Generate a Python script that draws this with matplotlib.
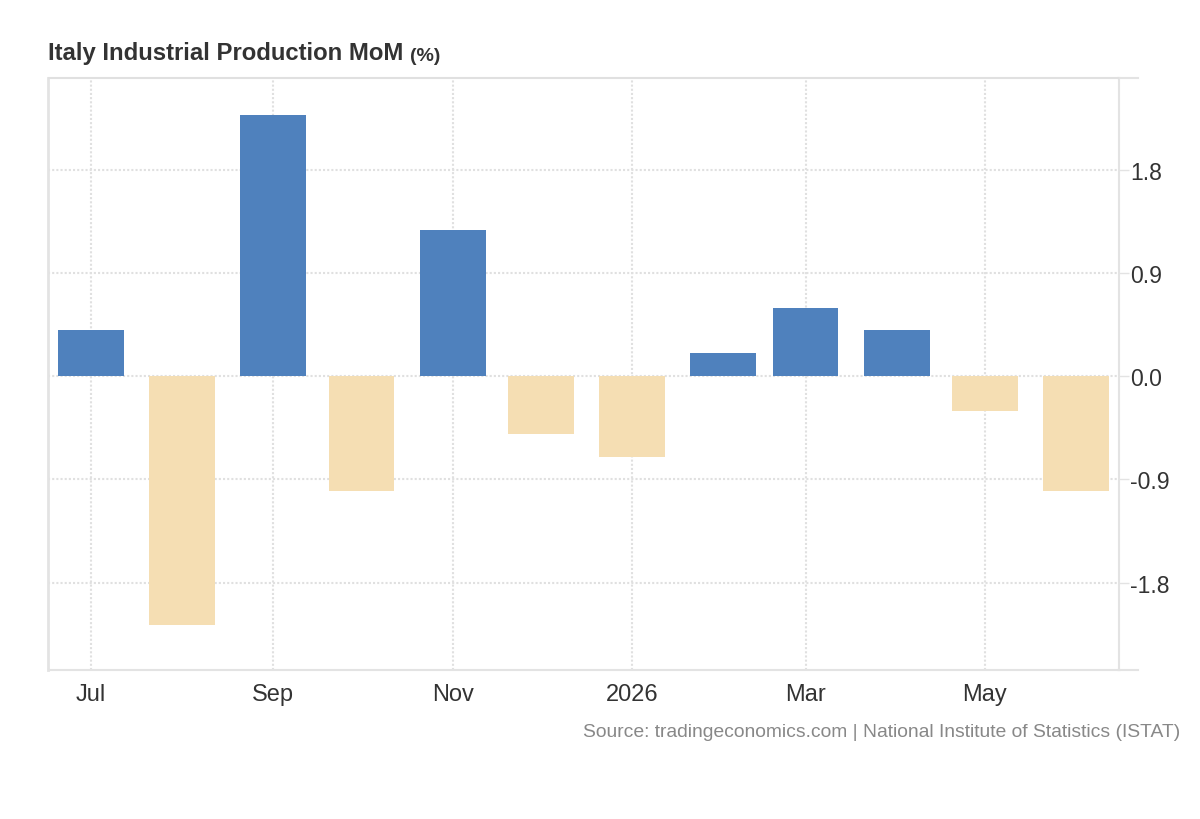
import matplotlib
matplotlib.use("Agg")
import matplotlib.pyplot as plt
import matplotlib.dates as mdates
from matplotlib.lines import Line2D
import datetime as dt

# ---- data ----
months = ["2025-07", "2025-08", "2025-09", "2025-10", "2025-11", "2025-12",
          "2026-01", "2026-02", "2026-03", "2026-04", "2026-05", "2026-06"]
values = [0.4, -2.17, 2.28, -1.0, 1.28, -0.5, -0.7, 0.2, 0.6, 0.4, -0.3, -1.0]
tick_months = ["2025-07", "2025-09", "2025-11", "2026-01", "2026-03", "2026-05"]
tick_labels = ["Jul", "Sep", "Nov", "2026", "Mar", "May"]
y_ticks = [-1.8, -0.9, 0.0, 0.9, 1.8]

title = "Italy Industrial Production MoM"
unit = "(%)"
source = "Source: tradingeconomics.com | National Institute of Statistics (ISTAT)"

# ---- style ----
BLUE = "#4F81BD"
BEIGE = "#F5DEB3"
GRID = "#e0e0e0"
SPINE = "#e3e3e3"
TEXT = "#333333"

plt.rcParams['font.family'] = ['Liberation Sans', 'DejaVu Sans']

W, H = 1200, 820
fig = plt.figure(figsize=(W / 100, H / 100), dpi=100)
left, right, top, bottom = 48.5, 1118.7, 79.3, 670.7
ax = fig.add_axes([left / W, 1 - bottom / H, (right - left) / W, (bottom - top) / H])

to_num = lambda s: mdates.date2num(dt.datetime.strptime(s, "%Y-%m"))
x = [to_num(m) for m in months]
colors = [BLUE if v >= 0 else BEIGE for v in values]
ax.bar(x, values, width=22.4, color=colors, zorder=3, linewidth=0)

ax.set_xlim(x[0] - 14.45, x[-1] + 14.5)
ax.set_ylim(-2.56, 2.60)

ax.set_xticks([to_num(m) for m in tick_months])
ax.set_xticklabels(tick_labels)
ax.set_yticks(y_ticks)
ax.set_yticklabels([f"{v:.1f}" for v in y_ticks])
ax.yaxis.tick_right()

ax.tick_params(axis='x', length=0, pad=9.5, labelsize=17, labelcolor=TEXT)
ax.tick_params(axis='y', length=7, width=1, color=SPINE, pad=1,
               labelsize=16.6, labelcolor=TEXT)

ax.set_axisbelow(True)
ax.grid(True, color=GRID, linestyle=(0, (1, 1)), linewidth=1.5)

ax.spines['left'].set_color(SPINE)
ax.spines['left'].set_linewidth(2)
ax.spines['right'].set_color(SPINE)
ax.spines['right'].set_linewidth(1.5)
ax.spines['bottom'].set_color(SPINE)
ax.spines['bottom'].set_linewidth(1.5)
ax.spines['top'].set_color(GRID)
ax.spines['top'].set_linewidth(1.5)
ax.spines['top'].set_linestyle((0, (1, 1)))

ext = 19.5 / (right - left)
for yy in (0, 1):
    ax.add_line(Line2D([1, 1 + ext], [yy, yy], transform=ax.transAxes,
                       color=SPINE, linewidth=1.5, clip_on=False))

t = fig.text(48 / W, 1 - 60 / H, title, fontsize=17.2, fontweight='bold',
             color=TEXT, ha='left', va='baseline')
ax.annotate(unit, xy=(1, 0), xycoords=t, xytext=(5, 0), textcoords='offset points',
            fontsize=14, fontweight='bold', color=TEXT, ha='left', va='bottom')

fig.text(1180 / W, 1 - 733 / H, source, fontsize=13.9, color='#888888',
         ha='right', va='center')

fig.savefig("out.png", dpi=100, facecolor='white')
